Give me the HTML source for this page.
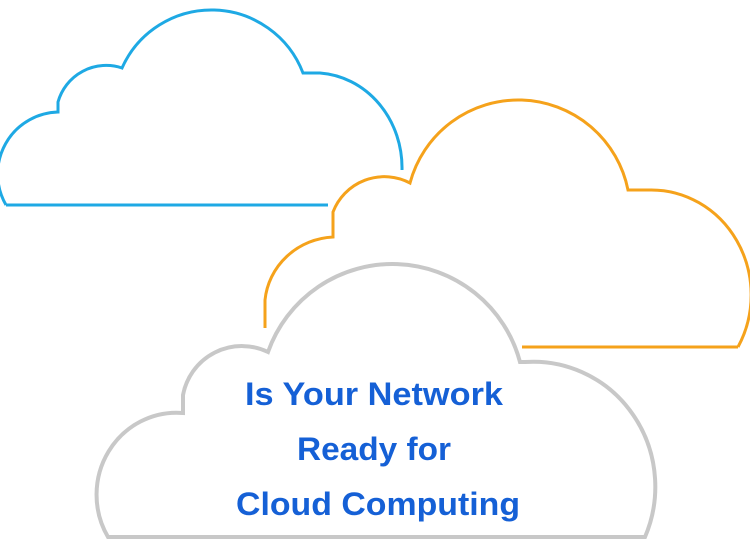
<!DOCTYPE html>
<html><head><meta charset="utf-8"><style>
html,body{margin:0;padding:0;background:#fff;width:750px;height:540px;overflow:hidden}
svg{display:block}
</style></head><body>
<svg width="750" height="540" viewBox="0 0 750 540" xmlns="http://www.w3.org/2000/svg">
<g fill="none" stroke-width="3">
<path d="M6,205 A62,62 0 0 1 58,112 L58,102 A50,50 0 0 1 122,68 A98,98 0 0 1 303,73 L320,73 A88,95 0 0 1 402,170" stroke="#1ea9e4"/>
<path d="M6,205 L328,205" stroke="#1ea9e4"/>
<path d="M265,328 L265,300 A72,70 0 0 1 333,237 L333,212 A55,55 0 0 1 410,183 A112,112 0 0 1 628,190 L648,190 A100,105 0 0 1 738,347" stroke="#f5a21b"/>
<path d="M522,347 L738,347" stroke="#f5a21b"/>
<path d="M108,537 A80,82 0 0 1 183,413 L183,395 A60,60 0 0 1 268,352 A132,132 0 0 1 520,362 L525,362 A122,125 0 0 1 645,537 Z" stroke="#c8c8c8" stroke-width="4" fill="#fff"/>
</g>
<g font-family="'Liberation Sans', sans-serif" font-weight="bold" font-size="32" fill="#1560d6" text-anchor="middle">
<text x="374" y="405" textLength="258" lengthAdjust="spacingAndGlyphs">Is Your Network</text>
<text x="374" y="460" textLength="154" lengthAdjust="spacingAndGlyphs">Ready for</text>
<text x="378" y="515" textLength="284" lengthAdjust="spacingAndGlyphs">Cloud Computing</text>
</g>
</svg>
</body></html>
